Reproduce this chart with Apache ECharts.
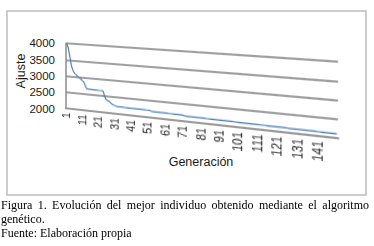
<!DOCTYPE html>
<html><head><meta charset="utf-8">
<script src="https://cdn.jsdelivr.net/npm/echarts@6/dist/echarts.min.js"></script>
<style>
html,body{margin:0;padding:0;background:#fff;width:374px;height:246px;overflow:hidden;}
#outer{position:absolute;left:0;top:0;width:374px;height:246px;}
#inner{position:absolute;left:0;top:0;width:374px;height:200px;transform-origin:0 0;}
#caption{position:absolute;left:1px;top:198px;width:368px;font-family:"Liberation Serif",serif;font-size:12px;line-height:14px;color:#000;}
.j{text-align:justify;text-align-last:justify;}
</style></head><body>
<div id="outer"></div><div id="inner"></div>
<div id="caption"><div class="j">Figura 1. Evolución del mejor individuo obtenido mediante el algoritmo</div><div>genético.</div><div>Fuente: Elaboración propia</div></div>
<script>
// Generations (categories) 1..150
const generations = Array.from({length:150}, (_, i) => String(i + 1));
// Fitness of the best individual ("Ajuste")
const fitness = [
 4000,3860,3600,3330,3190,3100,3060,3020,2980,2950,2900,2860,2740,2660,
 2660,2660,2660,2655,2655,2655,2650,2650,2650,2645,
 2490,2390,2370,2350,2300,2265,2250,2235,2225,
 2224,2223,2222,2221,2220,2220,2219,2218,2218,2217,2216,2216,2215,2215,2214,2214,2213,2213,2212,
 2190,
 2188,2188,2187,2187,2186,2185,2185,2184,2184,2183,2182,2182,2181,2181,2180,2180,2179,2178,
 2160,
 2158,2157,2157,2156,2156,2155,2155,2154,2154,2153,2153,2152,2152,2151,2151,2150,2150,2149,
 2148,2148,2147,2147,2146,2146,2145,2145,2144,2144,2143,2143,2142,2142,2141,2141,2140,2140,2139,2139,
 2138,2137,2137,2136,2136,2135,2134,2134,2133,2133,2132,2131,2131,2130,2130,2129,2128,2128,2127,2127,
 2126,2126,2125,2125,2124,2124,2123,2123,2122,2122,2121,2121,2120,2120,2120,2119,2119,2118,2118,2118
];
const yMin = 2000, yMax = 4000, yStep = 500;
const xAxisName = 'Generación';
const yAxisName = 'Ajuste';

// Layout of the perspective plot (screen quad of the plot wall)
const G = {left:60, top:40, width:231, height:65.2};
const quad = [[66,43.3],[338,61.7],[338,138.5],[66,108.5]];

function quadMatrix(q, g0){
  const [x0,y0]=q[0],[x1,y1]=q[1],[x2,y2]=q[2],[x3,y3]=q[3];
  const dx1=x1-x2, dx2=x3-x2, dx3=x0-x1+x2-x3;
  const dy1=y1-y2, dy2=y3-y2, dy3=y0-y1+y2-y3;
  const den=dx1*dy2-dx2*dy1;
  const g=(dx3*dy2-dx2*dy3)/den, h=(dx1*dy3-dx3*dy1)/den;
  const A=[[x1-x0+g*x1, x3-x0+h*x3, x0],[y1-y0+g*y1, y3-y0+h*y3, y0],[g,h,1]];
  const S=[[1/g0.width,0,-g0.left/g0.width],[0,1/g0.height,-g0.top/g0.height],[0,0,1]];
  const M=[[0,0,0],[0,0,0],[0,0,0]];
  for(let i=0;i<3;i++)for(let j=0;j<3;j++){let s=0;for(let k=0;k<3;k++)s+=A[i][k]*S[k][j];M[i][j]=s;}
  return `matrix3d(${M[0][0]},${M[1][0]},0,${M[2][0]},${M[0][1]},${M[1][1]},0,${M[2][1]},0,0,1,0,${M[0][2]},${M[1][2]},0,${M[2][2]})`;
}
document.getElementById('inner').style.transform = quadMatrix(quad, G);

const outer = echarts.init(document.getElementById('outer'), null, {renderer:'svg'});
outer.setOption({
  animation:false,
  grid:{left:66, top:43.3, width:10, height:65.2},
  xAxis:{type:'value', show:false},
  yAxis:{type:'value', min:yMin, max:yMax, interval:yStep,
    axisLine:{show:false}, axisTick:{show:false}, splitLine:{show:false},
    axisLabel:{margin:11, fontSize:11.5, fontFamily:'Liberation Sans', color:'#1a1a1a',
      formatter:(v)=>String(v)}},
  graphic:[
    {type:'rect', shape:{x:7, y:11, width:359, height:184}, style:{fill:'none', stroke:'#bdbdbd', lineWidth:1.5}},
    {type:'text', x:201, y:162, style:{text:xAxisName, font:'12.5px "Liberation Sans"', fill:'#1a1a1a', align:'center', verticalAlign:'middle', textAlign:'center', textVerticalAlign:'middle'}},
    {type:'text', x:21, y:71, rotation:Math.PI/2, style:{text:yAxisName, font:'12.5px "Liberation Sans"', fill:'#1a1a1a', align:'center', verticalAlign:'middle', textAlign:'center', textVerticalAlign:'middle'}}
  ]
});

const inner = echarts.init(document.getElementById('inner'), null, {renderer:'svg'});
inner.setOption({
  animation:false,
  grid:G,
  xAxis:{type:'category', data:generations, boundaryGap:true,
    axisLine:{lineStyle:{color:'#9b9b9b', width:2}},
    axisTick:{interval:0, length:3, lineStyle:{color:'#8c8c8c', width:0.8}},
    axisLabel:{interval:9, rotate:90, margin:4, fontSize:10.5, fontFamily:'Liberation Sans', color:'#1a1a1a'}},
  yAxis:{type:'value', min:yMin, max:yMax, interval:yStep,
    axisLine:{show:true, lineStyle:{color:'#8c8c8c', width:1.5}},
    axisTick:{show:false}, axisLabel:{show:false},
    splitLine:{lineStyle:{color:'#808080', width:1.5}}},
  series:[{type:'line', data:fitness, symbol:'none', clip:false,
    lineStyle:{color:'#4a7ebb', width:1.2}}]
});
</script>
</body></html>
